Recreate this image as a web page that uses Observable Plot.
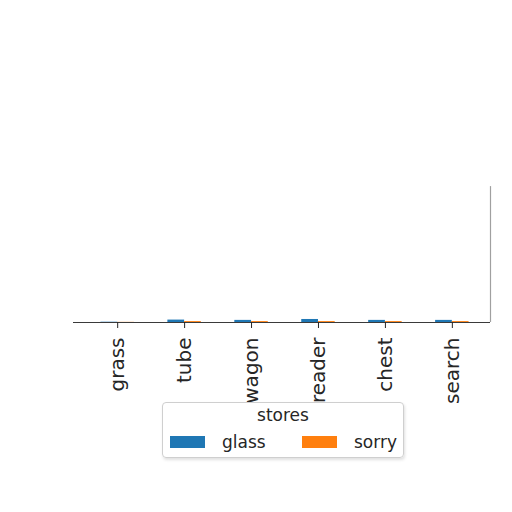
<!DOCTYPE html>
<html>
<head>
<meta charset="utf-8">
<script src="https://cdn.jsdelivr.net/npm/d3@7"></script>
<script src="https://cdn.jsdelivr.net/npm/@observablehq/plot@0.6"></script>
<style>
  html, body { margin: 0; padding: 0; background: #fff; }
  #wrap { position: relative; width: 512px; height: 512px; font-family: "DejaVu Sans", sans-serif; }
  #legend {
    position: absolute; left: 162px; top: 402px; width: 240px; height: 54px;
    border: 1px solid #cfcfcf; border-radius: 4px; background: rgba(255,255,255,0.85);
    box-shadow: 1px 2px 3px rgba(0,0,0,0.12);
    font-size: 17px; color: #262626;
  }
  #legend .title { position: absolute; left: 0; right: 0; top: 2px; text-align: center; }
  #legend .item { position: absolute; top: 29px; display: flex; align-items: center; }
  #legend .sw { width: 35px; height: 12px; margin-right: 17px; }
</style>
</head>
<body>
<div id="wrap"></div>
<script>
const categories = ["grass", "tube", "wagon", "reader", "chest", "search"];
const seriesNames = ["glass", "sorry"];
const glass = [0.1, 0.8, 0.7, 1.0, 0.7, 0.7];
const sorry = [0.05, 0.3, 0.3, 0.3, 0.3, 0.3];
const colors = ["#1f77b4", "#ff7f0e"];
const legendTitle = "stores";

const rows = categories.flatMap((c, i) => [
  {cat: c, i, series: "glass", value: glass[i]},
  {cat: c, i, series: "sorry", value: sorry[i]}
]);

const chart = Plot.plot({
  width: 512,
  height: 512,
  marginTop: 20,
  marginBottom: 190,
  marginLeft: 73,
  marginRight: 22,
  style: {fontFamily: "DejaVu Sans, sans-serif", background: "transparent"},
  x: {domain: [-0.66, 5.57], axis: null},
  y: {domain: [0, 100], axis: null},
  color: {domain: seriesNames, range: colors},
  marks: [
    Plot.rectY(rows, {
      x1: d => d.series === "glass" ? d.i - 0.25 : d.i,
      x2: d => d.series === "glass" ? d.i : d.i + 0.25,
      y: "value",
      fill: "series"
    }),
    Plot.ruleX([5.57], {y1: 0, y2: 45, stroke: "#a0a0a0", strokeWidth: 1.2}),
    Plot.ruleY([0], {stroke: "#3a3a3a", strokeWidth: 1.2}),
    Plot.axisX(d3.range(categories.length), {
      tickFormat: i => categories[i],
      tickRotate: -90,
      tickSize: 6,
      tickPadding: 9,
      fontSize: 20,
      fill: "#262626",
      stroke: "#262626",
      label: null
    })
  ]
});

const wrap = document.getElementById("wrap");
wrap.appendChild(chart);

const legend = document.createElement("div");
legend.id = "legend";
legend.innerHTML = `<div class="title">${legendTitle}</div>` +
  seriesNames.map((s, k) =>
    `<div class="item" style="left:${7 + k * 132}px"><div class="sw" style="background:${colors[k]}"></div><span>${s}</span></div>`
  ).join("");
wrap.appendChild(legend);
</script>
</body>
</html>
